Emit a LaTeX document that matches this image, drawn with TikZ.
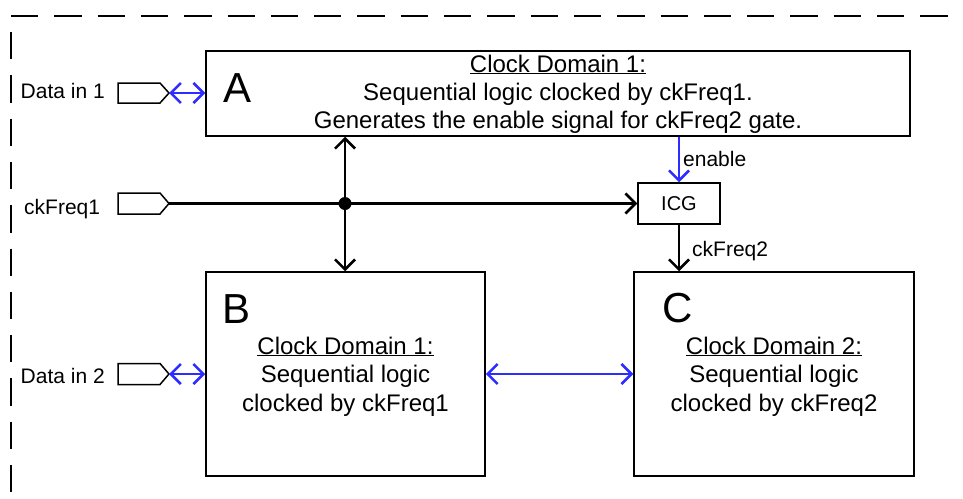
\documentclass[tikz,border=0pt]{standalone}
\usepackage{fontspec}
\setmainfont{Liberation Sans}
\usetikzlibrary{arrows.meta}
\definecolor{linkblue}{RGB}{45,45,255}
\begin{document}
\begin{tikzpicture}[x=1pt,y=-1pt,
  box/.style={draw, line width=1.5pt, inner sep=0pt},
  txt/.style={font=\fontsize{24}{28.5}\selectfont, inner sep=0pt, anchor=base},
  lbl/.style={font=\fontsize{21}{25}\selectfont, inner sep=0pt, anchor=base west},
  big/.style={font=\fontsize{42}{50}\selectfont, inner sep=0pt, anchor=base west},
  tip/.tip={Straight Barb[length=10pt,width=20pt]},
  wire/.style={line width=2.6pt, -tip},
  biwire/.style={line width=2.6pt, tip-tip},
  bus/.style={linkblue, line width=2.6pt, tip-tip},
  port/.style={draw, line width=1.5pt, fill=white, line join=miter},
  frame/.style={line width=1.6pt, dash pattern=on 27.3pt off 16pt}
]
\useasboundingbox (0,0) rectangle (963,498);

% dashed enclosure (top and left edges)
\draw[frame] (11,16) -- (963,16);
\draw[frame, dash phase=27.3pt] (11,16) -- (11,498);

% logic blocks
\node[box, minimum width=704pt, minimum height=85pt] (A) at (558,93.5) {};
\node[box, minimum width=279pt, minimum height=204pt] (B) at (345.5,374) {};
\node[box, minimum width=280pt, minimum height=204pt] (C) at (774,374) {};
\node[box, minimum width=82pt, minimum height=41pt,
      font=\fontsize{20}{24}\selectfont] (ICG) at (679,203.5) {ICG};

% block letters
\node[big] (Aname) at (223,102) {A};
\node[big] (Bname) at (222,323) {B};
\node[big] (Cname) at (662,322) {C};

% block descriptions
\node[txt] (a1) at (558,72)  {\underline{Clock Domain 1:}};
\node[txt] (a2) at (558,100) {Sequential logic clocked by ckFreq1.};
\node[txt] (a3) at (558,128) {Generates the enable signal for ckFreq2 gate.};

\node[txt] (b1) at (345.5,354)   {\underline{Clock Domain 1:}};
\node[txt] (b2) at (345.5,382.5) {Sequential logic};
\node[txt] (b3) at (345.5,411)   {clocked by ckFreq1};

\node[txt] (c1) at (774,354)   {\underline{Clock Domain 2:}};
\node[txt] (c2) at (774,382.5) {Sequential logic};
\node[txt] (c3) at (774,411)   {clocked by ckFreq2};

% input ports
\draw[port] (118,83) -- (160,83) -- (169,93) -- (160,103) -- (118,103) -- cycle;
\coordinate (d1) at (169,93);
\draw[port] (118,193) -- (160,193) -- (169,203.5) -- (160,214) -- (118,214) -- cycle;
\coordinate (ck1) at (169,203.5);
\draw[port] (118,363.5) -- (160,363.5) -- (169,374) -- (160,384.5) -- (118,384.5) -- cycle;
\coordinate (d2) at (169,374);

\node[lbl] (d1lbl)  at (20.5,98.5) {Data in 1};
\node[lbl] (ck1lbl) at (24,214)    {ckFreq1};
\node[lbl] (d2lbl)  at (20.5,383.5) {Data in 2};

% clock distribution
\coordinate (j) at (345,203.5);
\draw[wire] (ck1) -- (ICG.west);
\draw[biwire] (j |- A.south) -- (j |- B.north);
\node[circle, fill=black, minimum size=13pt, inner sep=0pt] (jdot) at (j) {};
\draw[wire] (ICG.south) -- (ICG.south |- C.north);
\node[lbl] (ck2lbl) at (692,256.5) {ckFreq2};

% enable and data paths
\draw[linkblue, line width=2.6pt, -tip] (ICG.north |- A.south) -- (ICG.north);
\node[lbl] (enlbl) at (683,166) {enable};
\draw[bus] (d1) -- (d1 -| A.west);
\draw[bus] (d2) -- (d2 -| B.west);
\draw[bus] (B.east) -- (C.west);
\end{tikzpicture}
\end{document}
